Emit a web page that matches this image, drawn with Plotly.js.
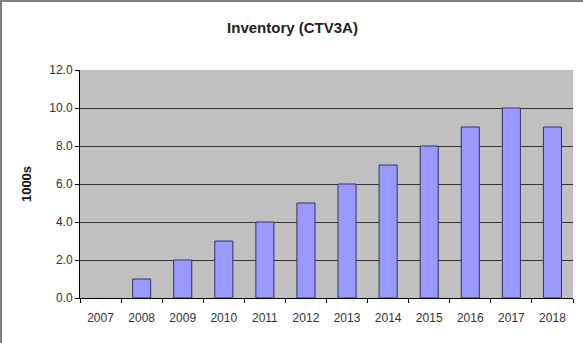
<!DOCTYPE html>
<html>
<head>
<meta charset="utf-8">
<script src="https://cdn.plot.ly/plotly-3.0.1.min.js"></script>
<style>
html,body{margin:0;padding:0;background:#fff;}
#chart{width:583px;height:343px;box-sizing:border-box;border-left:2px solid #808080;border-top:2px solid #808080;}
</style>
</head>
<body>
<div id="chart"></div>
<script>
const years = ['2007','2008','2009','2010','2011','2012','2013','2014','2015','2016','2017','2018'];
const inventory = [0, 1, 2, 3, 4, 5, 6, 7, 8, 9, 10, 9];
const yTicks = [0, 2, 4, 6, 8, 10, 12];

const trace = {
  type: 'bar',
  x: years,
  y: inventory,
  marker: {color: '#9999ff', line: {color: '#333366', width: inventory.map(v => v > 0 ? 1 : 0)}},
  width: 0.44,
  hoverinfo: 'x+y'
};

const layout = {
  width: 581,
  height: 341,
  margin: {l: 78, r: 10, t: 68, b: 45},
  paper_bgcolor: '#ffffff',
  plot_bgcolor: '#c0c0c0',
  showlegend: false,
  title: {
    text: '<b>Inventory (CTV3A)</b>',
    x: 0.5, xanchor: 'center', y: 0.925, yanchor: 'middle',
    font: {family: 'Liberation Sans, Arial, sans-serif', size: 15, color: '#222'}
  },
  xaxis: {
    type: 'category',
    tickson: 'boundaries',
    ticks: 'outside', ticklen: 4, tickcolor: '#000',
    ticklabelstandoff: 9,
    showline: true, linecolor: '#000', linewidth: 1,
    showgrid: false,
    tickfont: {family: 'Liberation Sans, Arial, sans-serif', size: 12, color: '#333'},
    fixedrange: true
  },
  yaxis: {
    range: [0, 12],
    tickvals: yTicks,
    tickformat: '.1f',
    ticks: 'outside', ticklen: 4, tickcolor: '#000',
    showline: true, linecolor: '#000', linewidth: 1,
    showgrid: true, gridcolor: '#333333', gridwidth: 1,
    zeroline: false,
    tickfont: {family: 'Liberation Sans, Arial, sans-serif', size: 12, color: '#333'},
    title: {text: '<b>1000s</b>', standoff: 14, font: {family: 'Liberation Sans, Arial, sans-serif', size: 13, color: '#111'}},
    fixedrange: true
  }
};

Plotly.newPlot('chart', [trace], layout, {displayModeBar: false, staticPlot: true});
</script>
</body>
</html>
